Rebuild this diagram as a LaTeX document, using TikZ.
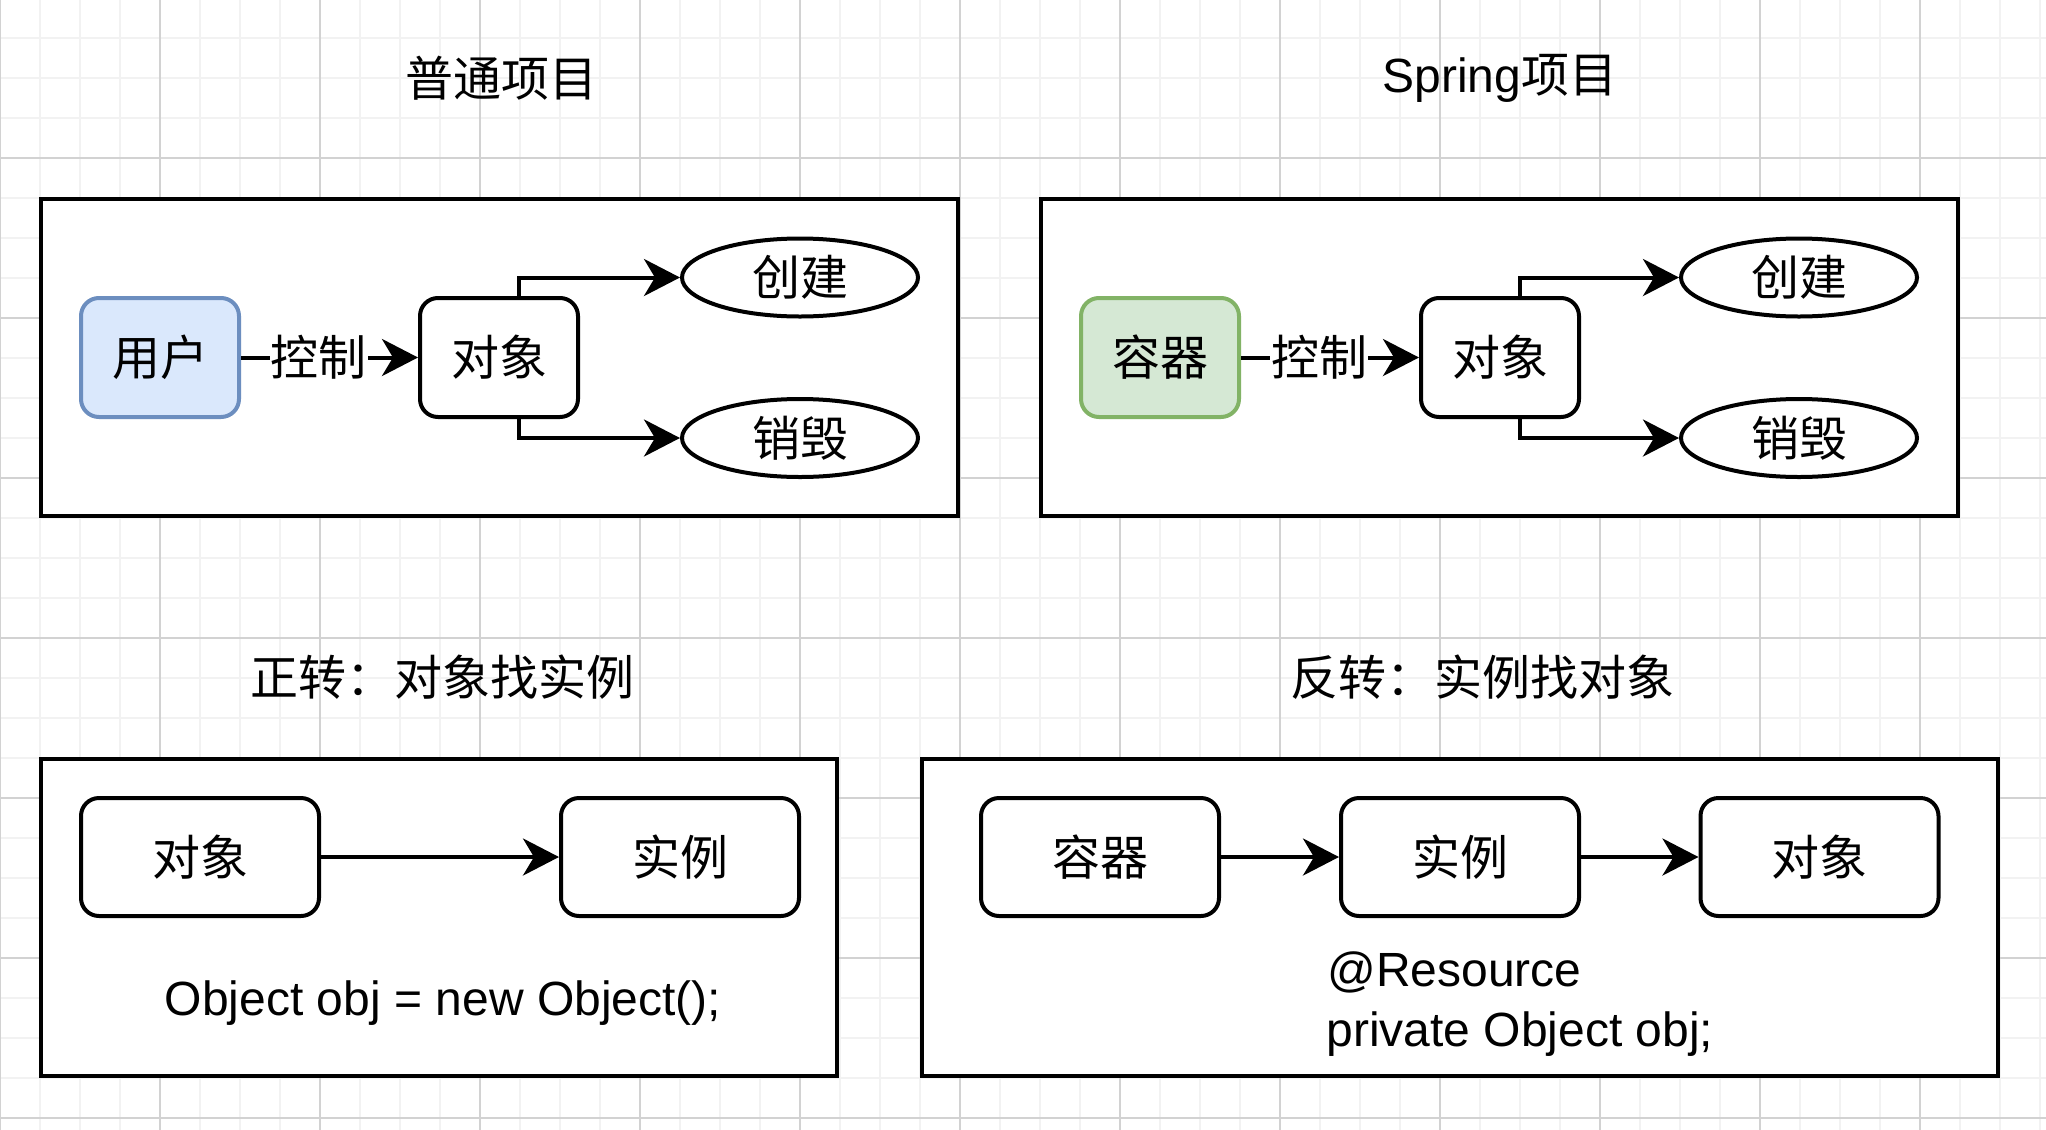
\documentclass[tikz,border=0pt]{standalone}
\usepackage{fontspec}
\setmainfont{Liberation Sans}
\newfontfamily\cjk{Noto Sans CJK SC}
\usetikzlibrary{arrows.meta,shapes.geometric,calc}
\definecolor{minorgrid}{HTML}{F2F2F2}
\definecolor{majorgrid}{HTML}{D2D2D2}
\definecolor{bluefill}{HTML}{DAE8FC}
\definecolor{bluedraw}{HTML}{6C8EBF}
\definecolor{greenfill}{HTML}{D5E8D4}
\definecolor{greendraw}{HTML}{82B366}
\begin{document}
\begin{tikzpicture}[x=0.5pt,y=-0.5pt,
  txt/.style={font=\fontsize{24}{28.8}\selectfont, inner sep=0pt},
  cjktxt/.style={font=\cjk\fontsize{24}{28.8}\selectfont, inner sep=0pt},
  frame/.style={draw=black, fill=white, line width=2pt},
  rbox/.style={draw=black, fill=white, line width=2pt, rounded corners=9pt, font=\cjk\fontsize{24}{28.8}\selectfont, inner sep=0pt},
  smallbox/.style={rbox, minimum width=79pt, minimum height=59.5pt},
  widebox/.style={rbox, minimum width=119pt, minimum height=59pt},
  oval/.style={ellipse, draw=black, fill=white, line width=2pt, minimum width=118pt, minimum height=39pt, inner sep=0pt, font=\cjk\fontsize{24}{28.8}\selectfont},
  arr/.style={line width=2pt, -{Stealth[length=18pt,width=18.5pt,inset=5.5pt]}},
  lbl/.style={fill=white, inner sep=0.5pt, font=\cjk\fontsize{24}{28.8}\selectfont},
  minorline/.style={draw=minorgrid, line width=1pt},
  majorline/.style={draw=majorgrid, line width=1pt},
]
\useasboundingbox (0,0) rectangle (2046,1130);
\fill[white] (0,0) rectangle (2046,1130);
% grid
\foreach \x in {0,40,...,2040} \draw[minorline] (\x,0) -- (\x,1130);
\foreach \y in {-2,38,...,1118} \draw[minorline] (0,\y) -- (2046,\y);
\foreach \x in {0,160,...,1920} \draw[majorline] (\x,0) -- (\x,1130);
\foreach \y in {-2,158,...,1118} \draw[majorline] (0,\y) -- (2046,\y);

% titles
\node[cjktxt] (t1) at (501,78) {普通项目};
\node[txt] (t2) at (1500,78) {Spring{\cjk 项目}};
\node[cjktxt] (t3) at (442,677) {正转：对象找实例};
\node[cjktxt] (t4) at (1482,677) {反转：实例找对象};

% frames
\draw[frame] (41,199) rectangle (958,516);
\draw[frame] (1041,199) rectangle (1958,516);
\draw[frame] (41,759) rectangle (837,1076);
\draw[frame] (922,759) rectangle (1998,1076);

% top left
\node[smallbox, fill=bluefill, draw=bluedraw] (user) at (160,357.5) {用户};
\node[smallbox] (obj1) at (499,357.5) {对象};
\node[oval] (create1) at (800,277.5) {创建};
\node[oval] (destroy1) at (800,438) {销毁};
\draw[arr] (user) -- node[lbl, pos=0.44] {控制} (obj1);
\draw[arr] ($(obj1.north)+(20,0)$) |- (create1.west);
\draw[arr] ($(obj1.south)+(20,0)$) |- (destroy1.west);

% top right
\node[smallbox, fill=greenfill, draw=greendraw] (cont1) at (1160,357.5) {容器};
\node[smallbox] (obj2) at (1500,357.5) {对象};
\node[oval] (create2) at (1799,277.5) {创建};
\node[oval] (destroy2) at (1799,438) {销毁};
\draw[arr] (cont1) -- node[lbl, pos=0.44] {控制} (obj2);
\draw[arr] ($(obj2.north)+(20,0)$) |- (create2.west);
\draw[arr] ($(obj2.south)+(20,0)$) |- (destroy2.west);

% bottom left
\node[widebox] (objA) at (200,857) {对象};
\node[widebox] (instA) at (680,857) {实例};
\draw[arr] (objA) -- (instA);
\node[txt, anchor=base] (code1) at (443,1015) {Object obj = new Object();};

% bottom right
\node[widebox] (contB) at (1100,857) {容器};
\node[widebox] (instB) at (1460,857) {实例};
\node[widebox] (objB) at (1819.5,857) {对象};
\draw[arr] (contB) -- (instB);
\draw[arr] (instB) -- (objB);
\node[txt, anchor=base west] (code2a) at (1327,986) {@Resource};
\node[txt, anchor=base west] (code2b) at (1326,1046) {private Object obj;};
\end{tikzpicture}
\end{document}
